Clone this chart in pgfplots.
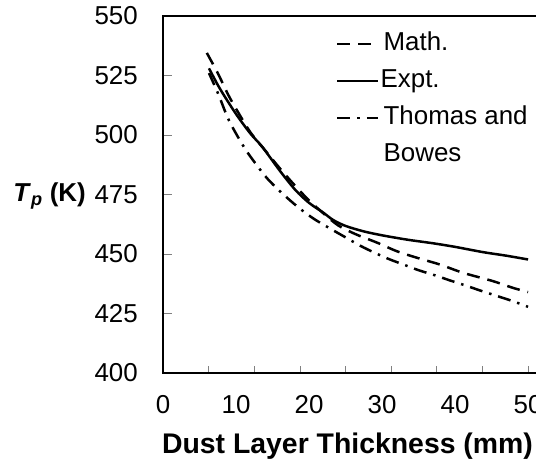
\documentclass[border=0pt]{standalone}
\usepackage{pgfplots}
\pgfplotsset{compat=1.18}
\usepackage{pgfplotstable}
\usepackage{fontspec}
\setmainfont{Liberation Sans}

\pgfplotstableread{
x y
6.0 534.5
7.5 526
9.0 516.5
10.3 509.5
12.0 501
14.0 493.5
16.0 486
18.0 479
20.0 472.5
22.0 467
24.0 462
26.4 458.3
29.3 454.8
32.0 451.2
34.8 448.4
37.9 445.6
41.1 442.1
45.2 438.6
47.9 435.8
50.0 434
}\mathdata

\pgfplotstableread{
x y
6.3 528
7.6 520.5
8.9 514
10.3 507.5
12.0 500.5
13.6 495
16.0 485
18.1 477
20.0 471.5
21.9 467.5
23.3 464.3
25.0 461.8
27.5 459.5
30.1 457.8
33.5 456
37.0 454.5
40.0 453
43.8 450.8
47.0 449.3
50.0 447.7
}\exptdata

\pgfplotstableread{
x y
6.3 526
7.6 517
8.9 507
10.3 499
11.5 493
12.8 487.5
14.2 482
15.8 477
17.6 472
19.2 468
20.8 464.5
23.0 460.5
25.0 457
27.0 453.5
29.0 450.5
31.0 447.8
33.0 445.5
35.0 443.2
37.3 441
39.3 438.9
41.6 436.6
43.4 434.7
45.7 432.4
47.9 430.2
50.0 427.8
}\tbdata

\begin{document}
\begin{tikzpicture}
\begin{axis}[
  scale only axis,
  width=376bp, height=357bp,
  xmin=0, xmax=51.5,
  ymin=400, ymax=550,
  axis line style={line width=2.2bp, black},
  xtick={0,10,20,30,40,50},
  minor xtick={6.25,12.5,18.75,25,31.25,37.5,43.75,50},
  major x tick style={draw=none},
  minor x tick style={gray, line width=0.6bp},
  minor tick length=7bp,
  ytick={400,425,450,475,500,525,550},
  major y tick style={gray, line width=0.6bp},
  major tick length=9bp,
  tick align=inside,
  xtick pos=bottom, ytick pos=left,
  /pgf/number format/assume math mode=true,
  tick label style={font=\fontsize{26}{30}\selectfont},
  yticklabel style={inner sep=0pt, xshift=-25bp},
  xticklabel style={inner sep=0pt, yshift=-22bp},
  xlabel={\textbf{Dust Layer Thickness (mm)}},
  xlabel style={font=\fontsize{28.5}{32}\selectfont, at={(axis description cs:0.4907,0)}, anchor=base, yshift=-80bp},
  legend image code/.code={\draw[#1] (0bp,0bp) -- (41bp,0bp);},
  legend cell align=left,
  legend style={draw=none, fill=none, inner sep=0pt,
    at={(axis description cs:0.460,0.9636)}, anchor=north west,
    font=\fontsize{26}{30}\selectfont,
    row sep=7bp,
    nodes={inner sep=1bp, text height=20bp, text depth=8bp}},
]
\addplot[black, line width=2.5bp, dash pattern=on 13bp off 8bp, smooth] table[x=x,y=y] {\mathdata};
\addlegendentry{\hspace{3bp}Math.}
\addplot[black, line width=2.5bp, smooth] table[x=x,y=y] {\exptdata};
\addlegendentry{Expt.}
\addplot[black, line width=2.5bp, dash pattern=on 13bp off 7bp on 2.5bp off 7bp, smooth] table[x=x,y=y] {\tbdata};
\addlegendentry{\hspace{3bp}Thomas and}
\addlegendimage{empty legend}
\addlegendentry{\hspace{3bp}Bowes}
\end{axis}
\node[anchor=base east, font=\fontsize{26}{30}\selectfont\bfseries, inner sep=0pt]
  at ([xshift=-77bp, yshift=-186bp]current axis.north west) {\textit{T}\textsubscript{\textit{p}} (K)};
\pgfresetboundingbox
\path (current axis.south west) ++(-163bp,-88bp) rectangle ++(536bp,461bp);
\end{tikzpicture}
\end{document}
